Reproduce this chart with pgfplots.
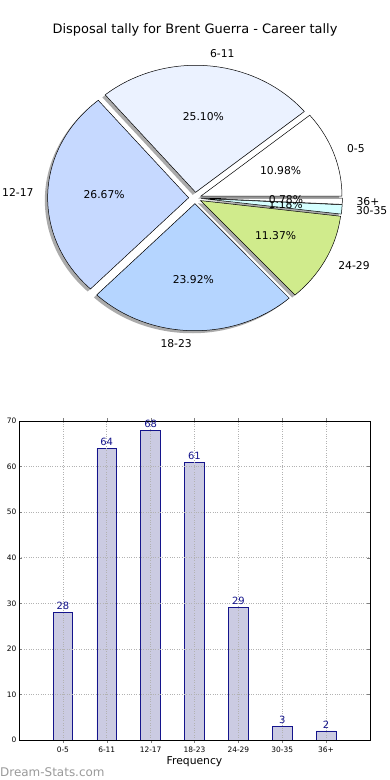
\documentclass[border=0pt]{standalone}
\usepackage{pgfplots}
\pgfplotsset{compat=1.18}
\usepackage{fontspec}
\setmainfont{DejaVu Sans}
\definecolor{cA}{HTML}{FFFFFF}
\definecolor{cB}{HTML}{EBF2FF}
\definecolor{cC}{HTML}{C6D9FF}
\definecolor{cD}{HTML}{B5D5FF}
\definecolor{cE}{HTML}{D0EB8C}
\definecolor{cF}{HTML}{D5FFFF}
\definecolor{cG}{HTML}{FFFFFF}
\definecolor{barfill}{HTML}{CBCBE2}
\definecolor{navyc}{HTML}{14148C}
\definecolor{wm}{HTML}{9A9A9A}
\tikzset{pielabel/.style={font=\fontsize{10.8}{12}\selectfont, inner sep=0pt}}
% values: 28, 64, 68, 61, 29, 3, 2 (total 255)
\newcommand\sliceangles[2]{%
 \pgfmathsetmacro\sa{(#1)/255*360}%
 \pgfmathsetmacro\sb{(#1+#2)/255*360}%
 \pgfmathsetmacro\sm{(\sa+\sb)/2}%
 \pgfmathsetmacro\dx{0.045*cos(\sm)}%
 \pgfmathsetmacro\dy{0.045*sin(\sm)}%
}
\newcommand\pieshadow[2]{%
 \sliceangles{#1}{#2}%
 \pgfmathsetmacro\sx{\dx-0.02}\pgfmathsetmacro\sy{\dy-0.02}%
 \edef\doit{\noexpand\addplot[draw=none, fill=black!60, fill opacity=0.55, domain=\sa:\sb, samples=90] ({\sx+cos(x)},{\sy+sin(x)}) -- (axis cs:\sx,\sy) -- cycle;}\doit}
\newcommand\pieslice[6]{%
 \sliceangles{#1}{#2}%
 \pgfmathsetmacro\px{\dx+0.6*cos(\sm)}\pgfmathsetmacro\py{\dy+0.6*sin(\sm)}%
 \pgfmathsetmacro\lx{\dx+1.1*cos(\sm)}\pgfmathsetmacro\ly{\dy+1.1*sin(\sm)}%
 \edef\doit{\noexpand\addplot[draw=black, line width=0.5pt, fill=#3, domain=\sa:\sb, samples=90] ({\dx+cos(x)},{\dy+sin(x)}) -- (axis cs:\dx,\dy) -- cycle;
 \noexpand\node[pielabel, anchor=#6] at (axis cs:\lx,\ly) {#4};
 \noexpand\node[pielabel] at (axis cs:\px,\py) {#5};}\doit}
\begin{document}
\begin{tikzpicture}
\path[use as bounding box, fill=white] (0,0) rectangle (390bp,780bp);
\node[font=\fontsize{13}{15}\selectfont] at (195bp,750bp) {Disposal tally for Brent Guerra - Career tally};
\begin{axis}[at={(0bp,424bp)}, anchor=south west, width=390bp, height=316bp, scale only axis, hide axis, clip=false,
 xmin=-1.383, xmax=1.383, ymin=-1.244, ymax=1.244]
\pieshadow{0}{28}
\pieshadow{28}{64}
\pieshadow{92}{68}
\pieshadow{160}{61}
\pieshadow{221}{29}
\pieshadow{250}{3}
\pieshadow{253}{2}
\pieslice{0}{28}{cA}{0-5}{10.98\%}{west}
\pieslice{28}{64}{cB}{6-11}{25.10\%}{west}
\pieslice{92}{68}{cC}{12-17}{26.67\%}{east}
\pieslice{160}{61}{cD}{18-23}{23.92\%}{east}
\pieslice{221}{29}{cE}{24-29}{11.37\%}{west}
\pieslice{250}{3}{cF}{30-35}{1.18\%}{west}
\pieslice{253}{2}{cG}{36+}{0.78\%}{west}
\end{axis}
\begin{axis}[at={(19bp,40bp)}, anchor=south west, width=351bp, height=319bp, scale only axis,
 xmin=-1, xmax=7, ymin=0, ymax=70,
 xtick={0,1,2,3,4,5,6}, xticklabels={0-5,6-11,12-17,18-23,24-29,30-35,36+},
 ytick={0,10,...,70},
 tick align=inside, xtick pos=both, ytick pos=both, major tick length=3bp,
 grid=major, major grid style={dotted, gray!60, line width=0.6pt},
 axis on top, axis line style={line width=0.8pt},
 tick label style={font=\fontsize{7.5}{8}\selectfont},
 yticklabel style={xshift=1bp},
 /pgf/number format/assume math mode=true,
 xlabel={Frequency}, xlabel style={font=\fontsize{10.8}{12}\selectfont, yshift=2bp},
 ybar, bar width=0.45,
 nodes near coords, nodes near coords style={font=\fontsize{10}{11}\selectfont, text=navyc, inner sep=2.5pt}]
\addplot[fill=barfill, draw=navyc, line width=0.7pt] coordinates {(0,28) (1,64) (2,68) (3,61) (4,29) (5,3) (6,2)};
\end{axis}
\node[anchor=base west, inner sep=0pt, text=wm, font=\fontsize{12}{13}\selectfont] at (0bp,3.5bp) {Dream-Stats.com};
\end{tikzpicture}
\end{document}
